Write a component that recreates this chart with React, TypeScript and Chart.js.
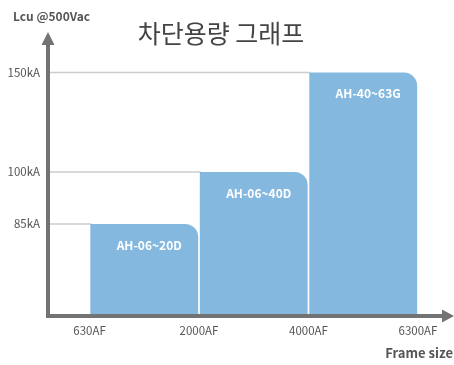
import React, { useEffect, useRef } from 'react';
import { Chart, registerables, LinearScale } from 'chart.js';

// ---- data ----
const frameSizes = ['630AF', '2000AF', '4000AF', '6300AF'];
const models = ['AH-06~20D', 'AH-06~40D', 'AH-40~63G'];
const capacityKA = [85, 100, 150];
const capacityTicks = [85, 100, 150];
const chartTitle = '차단용량 그래프';
const yAxisTitle = 'Lcu @500Vac';
const xAxisTitle = 'Frame size';

// the y axis of the original is not to scale: each value sits at a fixed fraction of the plot height
const Y_STOPS: [number, number][] = [
  [0, 0],
  [85, 0.3217],
  [100, 0.5035],
  [150, 0.851],
  [175, 1],
];

class SteppedScale extends LinearScale {
  static id = 'stepped';
  static defaults = LinearScale.defaults;
  getPixelForValue(value: number) {
    if (value === null || value === undefined || isNaN(value)) return NaN;
    let dec = 0;
    if (value <= Y_STOPS[0][0]) dec = Y_STOPS[0][1];
    else if (value >= Y_STOPS[Y_STOPS.length - 1][0]) dec = Y_STOPS[Y_STOPS.length - 1][1];
    else {
      for (let i = 1; i < Y_STOPS.length; i++) {
        const [v0, d0] = Y_STOPS[i - 1];
        const [v1, d1] = Y_STOPS[i];
        if (value <= v1) {
          dec = d0 + ((value - v0) / (v1 - v0)) * (d1 - d0);
          break;
        }
      }
    }
    return (this as any).getPixelForDecimal(dec);
  }
  getValueForPixel(pixel: number) {
    const dec = (this as any).getDecimalForPixel(pixel);
    for (let i = 1; i < Y_STOPS.length; i++) {
      const [v0, d0] = Y_STOPS[i - 1];
      const [v1, d1] = Y_STOPS[i];
      if (dec <= d1) return v0 + ((dec - d0) / (d1 - d0)) * (v1 - v0);
    }
    return Y_STOPS[Y_STOPS.length - 1][0];
  }
}

Chart.register(...registerables, SteppedScale as any);

const FONT = "'Noto Sans CJK KR', 'Noto Sans', sans-serif";
const BAR_COLOR = '#84b8df';
const AXIS_COLOR = '#737373';
const TEXT_COLOR = '#555555';

const decorPlugin = {
  id: 'decor',
  beforeDatasetsDraw(chart: any) {
    const { ctx, chartArea, scales } = chart;
    const meta = chart.getDatasetMeta(0);
    ctx.save();
    ctx.strokeStyle = '#cccccc';
    ctx.lineWidth = 1.5;
    capacityKA.forEach((v, i) => {
      const bar = meta.data[i];
      const { x, width } = bar.getProps(['x', 'width'], true);
      const y = scales.y.getPixelForValue(v);
      ctx.beginPath();
      ctx.moveTo(chartArea.left, y);
      ctx.lineTo(x - width / 2 + 1, y);
      ctx.stroke();
    });
    ctx.restore();
  },
  afterDatasetsDraw(chart: any) {
    const { ctx, chartArea } = chart;
    const meta = chart.getDatasetMeta(0);
    ctx.save();
    // bar labels
    ctx.fillStyle = '#ffffff';
    ctx.font = `bold 12px ${FONT}`;
    ctx.textAlign = 'center';
    ctx.textBaseline = 'middle';
    models.forEach((m, i) => {
      const { x, y } = meta.data[i].getProps(['x', 'y'], true);
      ctx.fillText(m, x + 5, y + 21);
    });
    // axes with arrows
    const ax = chartArea.left;
    const ay = chartArea.bottom;
    ctx.strokeStyle = AXIS_COLOR;
    ctx.fillStyle = AXIS_COLOR;
    ctx.lineWidth = 4;
    ctx.beginPath();
    ctx.moveTo(ax, ay + 2);
    ctx.lineTo(ax, 42);
    ctx.moveTo(ax - 2, ay);
    ctx.lineTo(444, ay);
    ctx.stroke();
    ctx.beginPath();
    ctx.moveTo(ax, 32);
    ctx.lineTo(ax + 6.5, 45);
    ctx.lineTo(ax - 6.5, 45);
    ctx.closePath();
    ctx.fill();
    ctx.beginPath();
    ctx.moveTo(454, ay);
    ctx.lineTo(442, ay - 6.5);
    ctx.lineTo(442, ay + 6.5);
    ctx.closePath();
    ctx.fill();
    ctx.restore();
  },
  afterDraw(chart: any) {
    const { ctx } = chart;
    ctx.save();
    ctx.fillStyle = '#444444';
    ctx.font = `400 25px ${FONT}`;
    ctx.textAlign = 'center';
    ctx.textBaseline = 'middle';
    ctx.fillText(chartTitle, 221, 33);
    ctx.fillStyle = TEXT_COLOR;
    ctx.font = `bold 12px ${FONT}`;
    ctx.textAlign = 'left';
    ctx.fillText(yAxisTitle, 13, 16);
    ctx.font = `bold 13px ${FONT}`;
    ctx.textAlign = 'right';
    ctx.fillText(xAxisTitle, 453, 353);
    ctx.restore();
  },
};

export default function App() {
  const ref = useRef<HTMLCanvasElement>(null);
  useEffect(() => {
    if (!ref.current) return;
    const chart = new Chart(ref.current, {
      type: 'bar',
      data: {
        datasets: [
          {
            data: capacityKA.map((v, i) => ({ x: i + 0.5, y: v })),
            backgroundColor: BAR_COLOR,
            borderWidth: 0,
            borderRadius: { topLeft: 0, topRight: 13, bottomLeft: 0, bottomRight: 0 },
            borderSkipped: 'start',
            categoryPercentage: 1,
            barPercentage: 0.985,
          } as any,
        ],
      },
      options: {
        responsive: false,
        animation: false,
        events: [],
        layout: { padding: { top: 30, left: 0, right: 0, bottom: 0 } },
        plugins: { legend: { display: false }, tooltip: { enabled: false }, title: { display: false } },
        scales: {
          x: {
            type: 'linear',
            min: -0.379,
            max: 3.329,
            offset: false,
            grid: { display: false, drawTicks: false },
            border: { display: false },
            afterFit: (s: any) => {
              s.height = 49;
            },
            afterBuildTicks: (s: any) => {
              s.ticks = frameSizes.map((_, i) => ({ value: i }));
            },
            ticks: {
              padding: 8,
              color: TEXT_COLOR,
              font: { family: FONT, size: 11.5 },
              maxRotation: 0,
              autoSkip: false,
              callback: (_v: any, i: number) => frameSizes[i],
            },
          },
          y: {
            type: 'stepped' as any,
            min: 0,
            max: 175,
            grid: { display: false, drawTicks: false },
            border: { display: false },
            afterFit: (s: any) => {
              s.width = 48;
            },
            afterBuildTicks: (s: any) => {
              s.ticks = capacityTicks.map((v) => ({ value: v }));
            },
            ticks: {
              padding: 8,
              color: TEXT_COLOR,
              font: { family: FONT, size: 11.5 },
              autoSkip: false,
              callback: (v: any) => `${v}kA`,
            },
          },
        },
      } as any,
      plugins: [decorPlugin],
    });
    return () => chart.destroy();
  }, []);
  return (
    <div style={{ position: 'fixed', left: 0, top: 0, width: 454, height: 365 }}>
      <canvas ref={ref} width={454} height={365} style={{ display: 'block' }} />
    </div>
  );
}
